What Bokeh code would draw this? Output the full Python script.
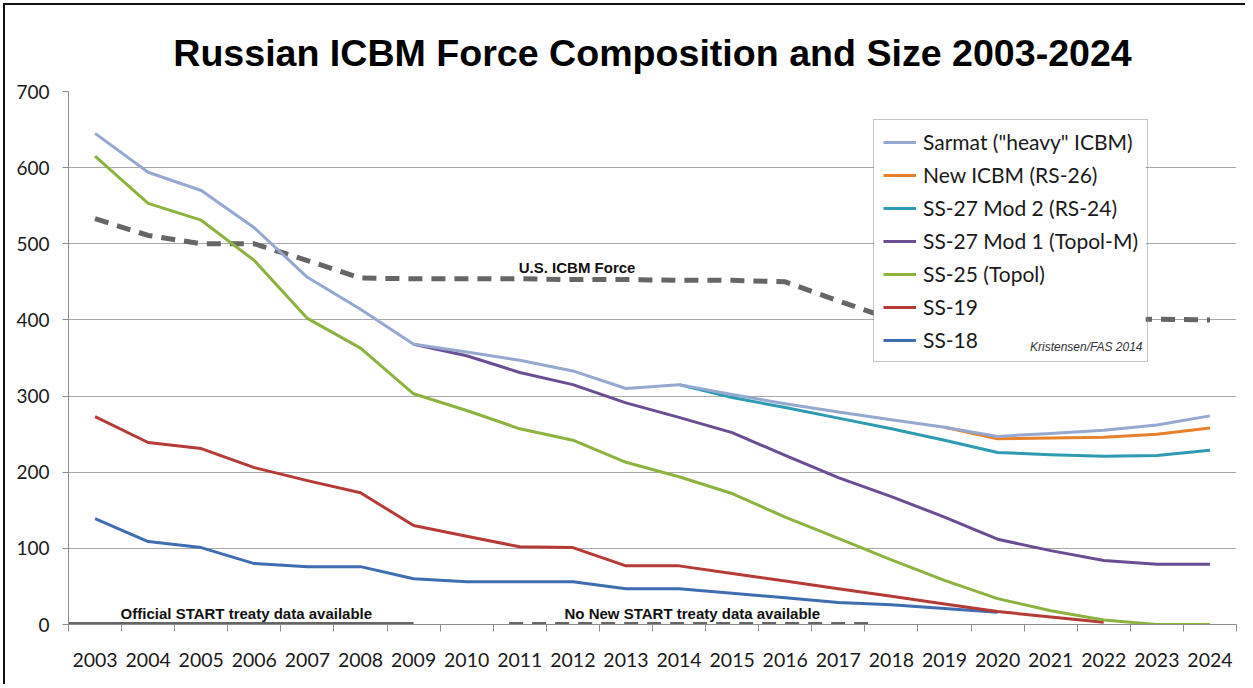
from bokeh.plotting import figure
from bokeh.models import FixedTicker, Label, Range1d, BoxAnnotation
from bokeh.embed import file_html
from bokeh.resources import INLINE

# ---------------- data ----------------
years = list(range(2003, 2025))
year_labels = [str(y) for y in years]
y_ticks = [0, 100, 200, 300, 400, 500, 600, 700]

sarmat_years = list(range(2003, 2025))
sarmat = [645, 594, 570, 521, 456, 414, 368, 358, 347, 333, 310, 315, 302, 290, 279, 269, 259, 247, 251, 255, 262, 274]

new_icbm_years = list(range(2019, 2025))
new_icbm = [259, 244, 245, 246, 250, 258]

ss27m2_years = list(range(2014, 2025))
ss27m2 = [315, 298, 285, 271, 257, 242, 226, 223, 221, 222, 229]

ss27m1_years = list(range(2009, 2025))
ss27m1 = [368, 353, 331, 315, 291, 272, 252, 222, 193, 168, 141, 112, 97, 84, 79, 79]

ss25_years = list(range(2003, 2025))
ss25 = [615, 553, 531, 478, 402, 363, 303, 281, 257, 242, 213, 194, 172, 141, 113, 85, 58, 34, 18, 6, 0, 0]

ss19_years = list(range(2003, 2023))
ss19 = [273, 239, 231, 206, 189, 173, 130, 116, 102, 101, 77, 77, 67, 57, 47, 37, 27, 17, 10, 3]

ss18_years = list(range(2003, 2021))
ss18 = [139, 109, 101, 80, 76, 76, 60, 56, 56, 56, 47, 47, 41, 35, 29, 26, 21, 16]

us_years = list(range(2003, 2025))
us_icbm = [533, 511, 500, 500, 478, 455, 454, 454, 454, 453, 453, 452, 452, 450, 425, 401, 400, 400, 400, 400, 401, 400]

start_span_x = [2002.5, 2009.0]
start_span_y = [0, 0]
newstart_span_x = [2010.8, 2017.7]
newstart_span_y = [0, 0]

title_text = "Russian ICBM Force Composition and Size 2003-2024"
start_text = "Official START treaty data available"
newstart_text = "No New START treaty data available"
us_text = "U.S. ICBM Force"
credit_text = "Kristensen/FAS 2014"

series = [
    ("SS-18", ss18_years, ss18, "#3F6DB1"),
    ("SS-19", ss19_years, ss19, "#B63B36"),
    ("SS-25 (Topol)", ss25_years, ss25, "#8CB33F"),
    ("SS-27 Mod 1 (Topol-M)", ss27m1_years, ss27m1, "#6A4D93"),
    ("SS-27 Mod 2 (RS-24)", ss27m2_years, ss27m2, "#2E9BB3"),
    ("New ICBM (RS-26)", new_icbm_years, new_icbm, "#E8812B"),
    ("Sarmat (\"heavy\" ICBM)", sarmat_years, sarmat, "#95A9D0"),
]

# ---------------- figure ----------------
p = figure(width=1242, height=681, output_backend="svg", toolbar_location=None,
           x_range=Range1d(2002.5, 2024.5), y_range=Range1d(0, 700),
           min_border_left=63, min_border_right=11, min_border_top=86, min_border_bottom=62)
p.styles = {"border-left": "2px solid #111", "border-top": "2px solid #111",
            "margin-left": "3px", "margin-top": "3px"}
p.outline_line_color = None
p.background_fill_color = "white"
p.border_fill_color = "white"

p.title.text = title_text
p.title.align = "center"
p.title.text_font = "Liberation Sans"
p.title.text_font_style = "bold"
p.title.text_font_size = "37.6px"
p.title.text_color = "black"
p.title.standoff = 36

# axes
xa = p.xaxis[0]
xa.ticker = FixedTicker(ticks=years, minor_ticks=[y - 0.5 for y in years] + [2024.5])
xa.major_label_overrides = {y: l for y, l in zip(years, year_labels)}
xa.major_tick_out = 0
xa.major_tick_in = 0
xa.minor_tick_out = 7
xa.minor_tick_in = 0
xa.minor_tick_line_color = "#8c8c8c"
xa.axis_line_color = "#8c8c8c"
xa.major_label_standoff = 21
xa.major_label_text_font = "Lato"
xa.major_label_text_font_size = "19.5px"
xa.major_label_text_color = "#1a1a1a"

ya = p.yaxis[0]
ya.ticker = FixedTicker(ticks=y_ticks, minor_ticks=[])
ya.major_tick_out = 6
ya.major_tick_in = 0
ya.major_tick_line_color = "#8c8c8c"
ya.axis_line_color = "#8c8c8c"
ya.minor_tick_line_color = None
ya.major_label_standoff = 13
ya.major_label_text_font = "Lato"
ya.major_label_text_font_size = "19px"
ya.major_label_text_color = "#1a1a1a"

p.xgrid.grid_line_color = None
p.ygrid.grid_line_color = "#a8a8a8"
p.ygrid.grid_line_width = 1.2
p.ygrid.ticker = FixedTicker(ticks=y_ticks[1:])

# US ICBM dashed line
p.line(us_years, us_icbm, line_color="#666666", line_width=5, line_dash="14 9")

# series lines
for name, xs, ys, col in series:
    p.line(xs, ys, line_color=col, line_width=3, line_join="round", legend_label=name)

# treaty data lines on the axis
p.line(start_span_x, start_span_y, line_color="#666666", line_width=5)
p.line(newstart_span_x, newstart_span_y, line_color="#666666", line_width=5, line_dash="14 9")

# legend (transparent; a white box underneath hides the lines so the credit text can sit inside)
leg = p.legend[0]
leg.items = list(reversed(leg.items))
leg.location = (805, 262)
leg.border_line_color = "#8c8c8c"
leg.border_line_width = 1
leg.background_fill_alpha = 0
leg.padding = 9
leg.margin = 0
leg.spacing = 8
leg.label_height = 20
leg.glyph_height = 20
leg.glyph_width = 33
leg.label_standoff = 7
leg.label_text_font = "Lato"
leg.label_text_font_size = "21px"
leg.label_text_color = "#1a1a1a"

p.add_layout(BoxAnnotation(left=2017.67, right=2022.79, bottom=347, top=655,
                           fill_color="white", fill_alpha=1, line_color=None))

# texts
p.add_layout(Label(x=2005.85, y=14, text=start_text, text_align="center", text_baseline="alphabetic",
                   text_font="Liberation Sans", text_font_style="bold", text_font_size="15px",
                   text_color="#111111"))
p.add_layout(Label(x=2014.25, y=14, text=newstart_text, text_align="center", text_baseline="alphabetic",
                   text_font="Liberation Sans", text_font_style="bold", text_font_size="15px",
                   text_color="#111111"))
p.add_layout(Label(x=2012.08, y=469, text=us_text, text_align="center", text_baseline="alphabetic",
                   text_font="Liberation Sans", text_font_style="bold", text_font_size="15px",
                   text_color="#111111"))
p.add_layout(Label(x=2022.73, y=364, text=credit_text, text_align="right", text_baseline="alphabetic",
                   text_font="Liberation Sans", text_font_style="italic", text_font_size="12px",
                   text_color="#333333"))

open("out.html", "w").write(file_html(p, INLINE))
